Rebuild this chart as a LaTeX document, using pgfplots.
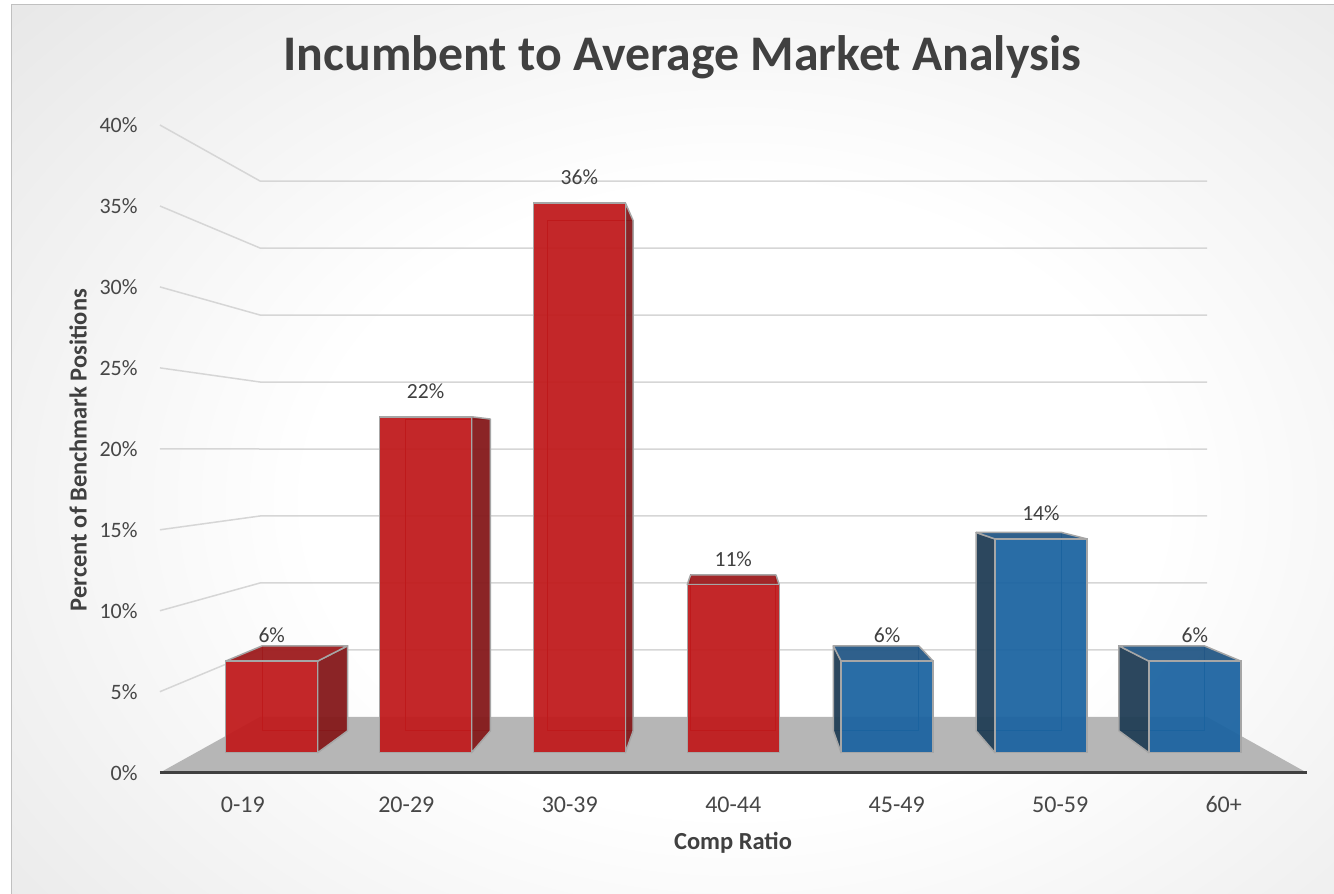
\documentclass[border=0pt]{standalone}
\usepackage{pgfplots}
\pgfplotsset{compat=1.18}
\usepackage{pgfplotstable}
\usepackage{fontspec}
\setmainfont{Carlito}

\definecolor{txt}{HTML}{404040}
\definecolor{ticktxt}{HTML}{474747}
\definecolor{grid3d}{HTML}{D6D6D6}
\definecolor{floorgray}{HTML}{B6B6B6}
\definecolor{flooredge}{HTML}{404040}
\definecolor{edgegray}{HTML}{A6A6A6}
\definecolor{redfront}{HTML}{C01A1C}
\definecolor{redside}{HTML}{85191B}
\definecolor{redtop}{HTML}{9E1C1E}
\definecolor{redback}{HTML}{A8181A}
\definecolor{bluefront}{HTML}{1C64A1}
\definecolor{blueside}{HTML}{213E56}
\definecolor{bluetop}{HTML}{245886}
\definecolor{blueback}{HTML}{17578C}
\definecolor{bgmid}{HTML}{D8D8D8}
\definecolor{bgedge}{HTML}{BEBEBE}
\definecolor{chartframe}{HTML}{C0C0C0}

\pgfdeclareradialshading{chartbg}{\pgfpoint{0bp}{0bp}}{color(0bp)=(white); color(10bp)=(white); color(32bp)=(bgmid); color(45bp)=(bgedge); color(50bp)=(bgedge)}

% share of benchmark positions per comp-ratio band (percent)
\pgfplotstableread{
idx value
0 6
1 22
2 36
3 11
}\belowavg
\pgfplotstableread{
idx value
4 6
5 14
6 6
}\aboveavg

% perspective of the 3-D columns: vanishing point and depth ratio
\def\vpx{3}
\def\vpy{19.876}
\def\depth{0.928}
\def\halfw{0.299}

\pgfplotsset{face/.style={draw=edgegray, line width=0.75pt, line join=round, fill opacity=0.95}}

% side, top and hidden back edges of one column: table, row, side, top, back colours
\newcommand{\cuboid}[5]{%
  \pgfplotstablegetelem{#2}{idx}\of#1\let\bi\pgfplotsretval
  \pgfplotstablegetelem{#2}{value}\of#1\let\bv\pgfplotsretval
  \pgfmathsetmacro\xl{\bi-\halfw}%
  \pgfmathsetmacro\xr{\bi+\halfw}%
  \pgfmathsetmacro\bxl{\vpx+\depth*(\xl-\vpx)}%
  \pgfmathsetmacro\bxr{\vpx+\depth*(\xr-\vpx)}%
  \pgfmathsetmacro\bylo{\vpy-\depth*\vpy}%
  \pgfmathsetmacro\byhi{\vpy+\depth*(\bv-\vpy)}%
  \pgfmathtruncatemacro\showtop{\bv<\vpy}%
  \edef\tmp{\noexpand\addplot[draw=#5, line width=0.5pt] coordinates {(\bxl,\bylo) (\bxr,\bylo) (\bxr,\byhi) (\bxl,\byhi)} -- cycle;}\tmp
  \ifnum\bi<3\relax
    \edef\tmp{\noexpand\addplot[face, fill=#3] coordinates {(\xr,0) (\xr,\bv) (\bxr,\byhi) (\bxr,\bylo)} -- cycle;}\tmp
  \fi
  \ifnum\bi>3\relax
    \edef\tmp{\noexpand\addplot[face, fill=#3] coordinates {(\xl,0) (\xl,\bv) (\bxl,\byhi) (\bxl,\bylo)} -- cycle;}\tmp
  \fi
  \ifnum\showtop=1\relax
    \edef\tmp{\noexpand\addplot[face, fill=#4] coordinates {(\xl,\bv) (\xr,\bv) (\bxr,\byhi) (\bxl,\byhi)} -- cycle;}\tmp
  \fi
}

\begin{document}
\begin{tikzpicture}
% page and chart background
\begin{scope}[x=0.5pt,y=0.5pt]
  \useasboundingbox (0,0) rectangle (1334,894);
  \fill[white] (0,0) rectangle (1334,894);
  \begin{scope}
    \clip (11.5,0) rectangle (1334,889.5);
    \shade[shading=chartbg] (-329,-390) rectangle (1799,1178);
  \end{scope}
  \draw[chartframe, line width=0.75pt] (11.5,0) -- (11.5,889.5) -- (1334,889.5);
\end{scope}

\begin{axis}[
  at={(0,0)}, anchor=south west,
  scale only axis, width=667pt, height=447pt,
  xmin=-1.76598, xmax=6.90478, ymin=-9.2534, ymax=49.2927,
  enlargelimits=false, clip=false,
  axis line style={draw=none},
  tick style={draw=none}, major tick length=0pt,
  /pgf/number format/assume math mode=true,
  xtick={-0.1875,0.875,1.9375,3,4.0625,5.125,6.1875},
  xticklabels={0-19,20-29,30-39,40-44,45-49,50-59,60+},
  xticklabel style={font=\fontsize{12}{14}\selectfont, text=ticktxt, anchor=base, yshift=40.5pt},
  ytick={-1.3065,3.9950,9.2965,14.5980,19.8995,25.2010,30.5025,35.8040,41.1055},
  yticklabels={0\%,5\%,10\%,15\%,20\%,25\%,30\%,35\%,40\%},
  yticklabel style={font=\fontsize{11}{13}\selectfont, text=ticktxt, anchor=east, inner sep=0pt, xshift=69pt},
  every axis title shift=0pt,
  title={Incumbent to Average Market Analysis},
  title style={at={(axis description cs:0.51154,0.92092)}, anchor=base, font=\bfseries\fontsize{24.9}{29}\selectfont, text=txt},
  xlabel={Comp Ratio},
  xlabel style={at={(axis description cs:0.54948,0.05)}, anchor=base, font=\bfseries\fontsize{12.25}{14}\selectfont, text=txt},
  ylabel={Percent of Benchmark Positions},
  ylabel style={at={(axis description cs:0.06499,0.49664)}, anchor=base, font=\bfseries\fontsize{12.25}{14}\selectfont, text=txt},
]
% side wall and back wall gridlines
\pgfplotsinvokeforeach{5,10,...,40}{
  \draw[grid3d, line width=0.75pt] (axis cs:-0.7265,{-1.3065+1.0603*#1}) -- (axis cs:-0.0760,{2.338+0.8775*#1}) -- (axis cs:6.0793,{2.338+0.8775*#1});
}
% floor
\fill[floorgray] (axis cs:-0.7265,-1.3065) -- (axis cs:6.7273,-1.3065) -- (axis cs:6.0793,2.338) -- (axis cs:-0.0760,2.338) -- cycle;
\draw[flooredge, line width=1.75pt] (axis cs:-0.7265,-1.3065) -- (axis cs:6.7273,-1.3065);

% column bodies
\cuboid{\belowavg}{0}{redside}{redtop}{redback}
\cuboid{\belowavg}{1}{redside}{redtop}{redback}
\cuboid{\belowavg}{2}{redside}{redtop}{redback}
\cuboid{\belowavg}{3}{redside}{redtop}{redback}
\cuboid{\aboveavg}{0}{blueside}{bluetop}{blueback}
\cuboid{\aboveavg}{1}{blueside}{bluetop}{blueback}
\cuboid{\aboveavg}{2}{blueside}{bluetop}{blueback}

% front faces with value labels
\addplot[ybar, bar width=0.598, bar shift=0pt, fill=redfront, fill opacity=0.94,
  draw=edgegray, line width=0.75pt, point meta=y,
  nodes near coords={\pgfmathprintnumber{\pgfplotspointmeta}\%},
  every node near coord/.append style={font=\fontsize{10.8}{12}\selectfont, text=txt, text opacity=1, anchor=south, inner sep=0pt, yshift=8.7pt}]
  table[x=idx, y=value]{\belowavg};
\addplot[ybar, bar width=0.598, bar shift=0pt, fill=bluefront, fill opacity=0.94,
  draw=edgegray, line width=0.75pt, point meta=y,
  nodes near coords={\pgfmathprintnumber{\pgfplotspointmeta}\%},
  every node near coord/.append style={font=\fontsize{10.8}{12}\selectfont, text=txt, text opacity=1, anchor=south, inner sep=0pt, yshift=8.7pt}]
  table[x=idx, y=value]{\aboveavg};
\end{axis}
\end{tikzpicture}
\end{document}
